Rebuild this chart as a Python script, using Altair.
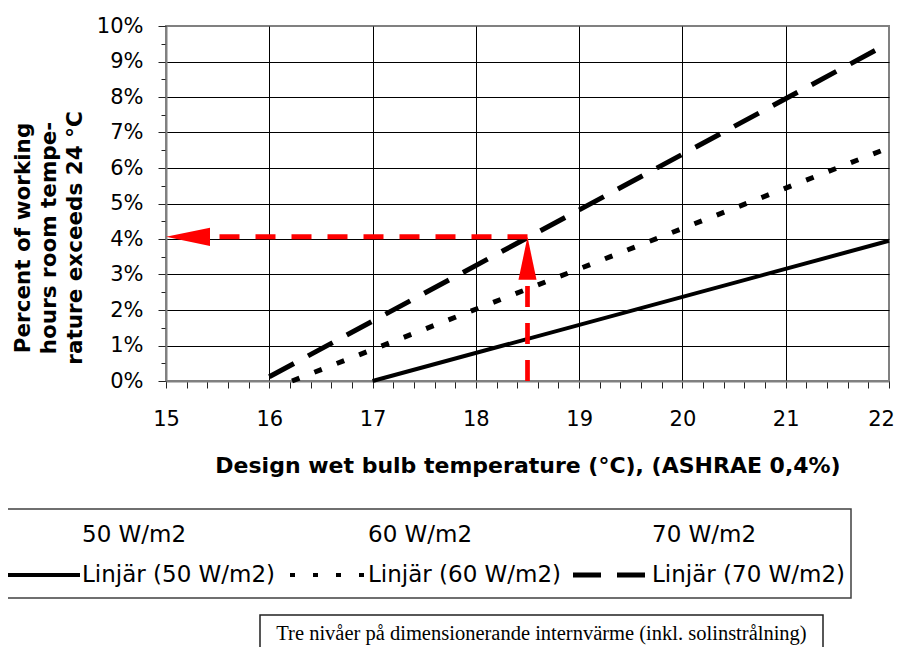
import altair as alt
import pandas as pd

# ---- data (trend lines "Linjär") ----
x50 = [17.0, 22.0]
y50 = [0.0, 0.0395]
x60 = [16.22, 22.0]
y60 = [0.0, 0.0657]
x70 = [16.0, 22.0]
y70 = [0.0012, 0.0952]

# red reading arrows: 18.5 °C -> about 4 %
arrow_x = 18.5
arrow_y = 0.0406
axis_x0 = 15.0
axis_y0 = 0.0

x_major = [15, 16, 17, 18, 19, 20, 21, 22]
x_ticks = [round(15 + 0.2 * i, 1) for i in range(36)]
y_ticks = [round(0.005 * i, 3) for i in range(21)]

x_title = "Design wet bulb temperature (°C), (ASHRAE 0,4%)"
y_title_lines = ["Percent of working", "hours room tempe-", "rature exceeds 24 °C"]
legend_top = ["50 W/m2", "60 W/m2", "70 W/m2"]
legend_bottom = ["Linjär (50 W/m2)", "Linjär (60 W/m2)", "Linjär (70 W/m2)"]
caption = "Tre nivåer på dimensionerande internvärme (inkl. solinstrålning)"

# ---- layout ----
W, H = 723, 355
FONT = "DejaVu Sans"

xs = alt.Scale(domain=[15, 22], nice=False, zero=False)
ys = alt.Scale(domain=[0, 0.10], nice=False, zero=False)

x_axis = alt.Axis(
    values=x_ticks,
    labelExpr="abs(datum.value - round(datum.value)) < 0.001 ? format(datum.value, 'd') : ''",
    labelOffset={"condition": {"test": "datum.value >= 21.99", "value": -8}, "value": 0},
    tickSize=7,
    grid=True,
    gridOpacity={"condition": {"test": "abs(datum.value - round(datum.value)) < 0.001 && datum.value < 21.99", "value": 1}, "value": 0},
    labelPadding=20,
    labelOverlap=False,
    labelFlush=False,
    labelBound=False,
    title=x_title,
    titleFont=FONT,
    titleFontSize=22,
    titleFontWeight="bold",
    titleY=84,
    titleBaseline="middle",
)
y_axis = alt.Axis(
    values=y_ticks,
    labelExpr="round(datum.value * 200) % 2 == 0 ? format(datum.value, '.0%') : ''",
    tickSize={"condition": {"test": "round(datum.value * 200) % 2 == 0", "value": 8}, "value": 5},
    grid=True,
    gridOpacity={"condition": {"test": "round(datum.value * 200) % 2 == 0 && datum.value < 0.099", "value": 1}, "value": 0},
    labelPadding=15,
    labelOverlap=False,
    labelFlush=False,
    labelBound=False,
    title=None,
)


def X(field="x"):
    return alt.X(field, type="quantitative", scale=xs, axis=x_axis)


def Y(field="y"):
    return alt.Y(field, type="quantitative", scale=ys, axis=y_axis)


one = alt.Data(values=[{"k": 0}])

df50 = pd.DataFrame({"x": x50, "y": y50})
df60 = pd.DataFrame({"x": x60, "y": y60})
df70 = pd.DataFrame({"x": x70, "y": y70})

line50 = alt.Chart(df50).mark_line(color="black", strokeWidth=4).encode(x=X(), y=Y())
line60 = alt.Chart(df60).mark_line(color="black", strokeWidth=5, strokeDash=[8, 16]).encode(x=X(), y=Y())
line70 = alt.Chart(df70).mark_line(color="black", strokeWidth=5, strokeDash=[28, 16]).encode(x=X(), y=Y())

# arrows
head_len_px = 44
x_shaft_end = axis_x0 + head_len_px / (W / 7.0)
y_shaft_end = arrow_y - 43 / (H / 0.10)
arr = pd.DataFrame({"x": [arrow_x], "y": [arrow_y], "x0": [axis_x0], "y0": [axis_y0],
                    "xs": [x_shaft_end], "ys": [y_shaft_end]})

h_rule = alt.Chart(arr).mark_rule(color="#FF0000", strokeWidth=5, strokeDash=[20, 16]).encode(
    x=X("x"), x2="xs", y=Y("y"))
v_rule = alt.Chart(arr).mark_rule(color="#FF0000", strokeWidth=4.7, strokeDash=[21, 16]).encode(
    x=X("x"), y=Y("y0"), y2="ys")
h_head = alt.Chart(arr).mark_point(shape="M0,0L2,-0.42L2,0.42Z", filled=True, color="#FF0000",
                                   opacity=1, size=1936, strokeWidth=0).encode(x=X("x0"), y=Y("y"))
v_head = alt.Chart(arr).mark_point(shape="M0,0L-0.42,2L0.42,2Z", filled=True, color="#FF0000",
                                   opacity=1, size=1849, strokeWidth=0).encode(x=X("x"), y=Y("y"))

layers = [line50, line60, line70, h_rule, v_rule, h_head, v_head]

# y-axis title, three lines
for i, (txt, px) in enumerate(zip(y_title_lines, [-142.5, -116.5, -90])):
    layers.append(alt.Chart(one).mark_text(text=txt, angle=270, font=FONT, fontSize=21.5, fontWeight="bold",
                                           align="center", baseline="middle", color="black")
                  .encode(x=alt.value(px), y=alt.value(212)))

# legend box
layers.append(alt.Chart(one).mark_rect(fill="white", stroke="#404040", strokeWidth=1.5)
              .encode(x=alt.value(-170), x2=alt.value(685), y=alt.value(483), y2=alt.value(572)))
leg_x_text = [-84, 202, 486]
leg_sym = [(-161, -86, None, 4), (124, 199, [5, 18], 4), (407, 480, [28, 16], 5)]
for i in range(3):
    layers.append(alt.Chart(one).mark_text(text=legend_top[i], font=FONT, fontSize=23, align="left",
                                           baseline="middle", color="black")
                  .encode(x=alt.value(leg_x_text[i]), y=alt.value(509)))
    layers.append(alt.Chart(one).mark_text(text=legend_bottom[i], font=FONT, fontSize=23, align="left",
                                           baseline="middle", color="black")
                  .encode(x=alt.value(leg_x_text[i]), y=alt.value(549)))
    a, b, dash, sw = leg_sym[i]
    kw = {"color": "black", "strokeWidth": sw}
    if dash is not None:
        kw["strokeDash"] = dash
    layers.append(alt.Chart(one).mark_rule(**kw)
                  .encode(x=alt.value(a), x2=alt.value(b), y=alt.value(549)))

# caption box
layers.append(alt.Chart(one).mark_rect(fill="white", stroke="#202020", strokeWidth=1.5)
              .encode(x=alt.value(94), x2=alt.value(657), y=alt.value(589), y2=alt.value(645)))
layers.append(alt.Chart(one).mark_text(text=caption, font="Liberation Serif", fontSize=20.5, align="center",
                                       baseline="middle", color="black")
              .encode(x=alt.value(375.5), y=alt.value(608)))

chart = alt.layer(*layers).properties(
    width=W, height=H,
    padding={"left": 158, "top": 18, "right": 7, "bottom": 266},
    autosize=alt.AutoSizeParams(type="none"),
).configure_view(
    stroke="#808080", strokeWidth=2
).configure_axis(
    labelFont=FONT, labelFontSize=21, labelColor="black",
    domainColor="#808080", domainWidth=2,
    tickColor="#222222", tickWidth=1,
    gridColor="black", gridWidth=1,
)

chart.save("out.html", embed_options={"renderer": "svg", "actions": False})
